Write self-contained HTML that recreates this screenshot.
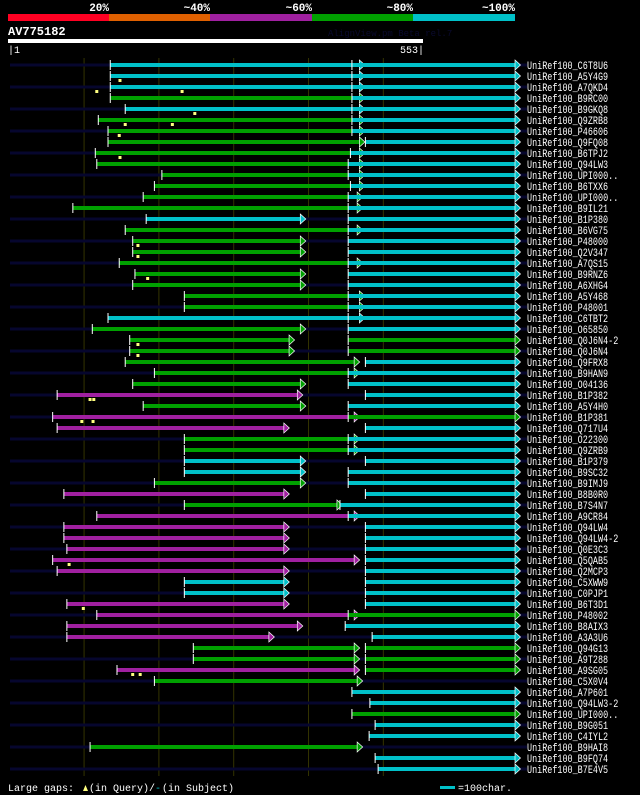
<!DOCTYPE html>
<html><head><meta charset="utf-8"><style>
html,body{margin:0;padding:0;background:#000;width:640px;height:795px;overflow:hidden}
svg{display:block}
text{font-family:"Liberation Mono","DejaVu Sans Mono",monospace;fill:#fff}
</style></head><body>
<svg id="chart" width="640" height="795" viewBox="0 0 640 795">
<g>
<rect x="8" y="14" width="101" height="7" fill="#ff0022"/>
<rect x="109" y="14" width="101" height="7" fill="#e06000"/>
<rect x="210" y="14" width="102" height="7" fill="#a020a0"/>
<rect x="312" y="14" width="101" height="7" fill="#00a000"/>
<rect x="413" y="14" width="102" height="7" fill="#00c0c8"/>
<text x="109" y="11" text-anchor="end" font-size="11" font-weight="bold">20%</text>
<text x="210" y="11" text-anchor="end" font-size="11" font-weight="bold">~40%</text>
<text x="312" y="11" text-anchor="end" font-size="11" font-weight="bold">~60%</text>
<text x="413" y="11" text-anchor="end" font-size="11" font-weight="bold">~80%</text>
<text x="515" y="11" text-anchor="end" font-size="11" font-weight="bold">~100%</text>
</g>
<text x="8" y="35" font-size="12" font-weight="bold">AV775182</text>
<text x="328" y="36" font-size="9" style="fill:#0a0a2e">AlignView.pm Beta rel.7</text>
<rect x="8" y="39" width="415" height="4" fill="#fff"/>
<text x="8" y="53" font-size="10">|1</text>
<text x="424" y="53" font-size="10" text-anchor="end">553|</text>
<g id="grid"></g>
<g id="rows"></g>
<g>
<text x="8" y="791" font-size="10">Large gaps:</text>
<path d="M83,791 L85.5,785 L88,791 Z" fill="#ffff80"/>
<text x="89" y="791" font-size="10">(in Query)/</text>
<text x="155" y="791" font-size="10" style="fill:#00c0c8">-</text>
<text x="162" y="791" font-size="10">(in Subject)</text>
<rect x="440" y="786" width="15" height="3" fill="#00c0c8"/>
<text x="458" y="791" font-size="10">=100char.</text>
</g>
</svg>
<script>
const gridTicks=[100,200,300,400,500];
const hitNames=["C6T8U6","A5Y4G9","A7QKD4","B9RC00","B9GKQ8","Q9ZRB8","P46606","Q9FQ08","B6TPJ2","Q94LW3","UPI000..","B6TXX6","UPI000..","B9IL21","B1P380","B6VG75","P48000","Q2V347","A7QS15","B9RNZ6","A6XHG4","A5Y468","P48001","C6TBT2","O65850","Q0J6N4-2","Q0J6N4","Q9FRX8","B9HAN9","O04136","B1P382","A5Y4H0","B1P381","Q717U4","O22300","Q9ZRB9","B1P379","B9SC32","B9IMJ9","B8B0R0","B7S4N7","A9CR84","Q94LW4","Q94LW4-2","Q0E3C3","Q5QAB5","Q2MCP3","C5XWW9","C0PJP1","B6T3D1","P48002","B8AIX3","A3A3U6","Q94G13","A9T288","A9SG05","C5X0V4","A7P601","Q94LW3-2","UPI000..","B9G051","C4IYL2","B9HAI8","B9FQ74","B7E4V5"];
// segment: start residue, end residue, identity class (c=~100,g=~80,m=~60)
const hitSegments=[
[[135,472,"c"],[458,680,"c"]],[[135,472,"c"],[458,680,"c"]],[[135,472,"c"],[458,680,"c"]],[[135,472,"g"],[458,680,"c"]],
[[155,472,"c"],[458,680,"c"]],[[119,472,"g"],[458,680,"c"]],[[132,472,"g"],[458,680,"c"]],[[132,472,"g"],[476,680,"c"]],
[[115,472,"g"],[456,680,"c"]],[[117,472,"g"],[453,680,"c"]],[[204,472,"g"],[453,680,"c"]],[[194,472,"g"],[456,680,"c"]],
[[179,469,"g"],[453,680,"c"]],[[85,469,"g"],[453,680,"c"]],[[183,393,"c"],[453,680,"c"]],[[155,469,"g"],[453,680,"c"]],
[[165,393,"g"],[453,680,"c"]],[[165,393,"g"],[453,680,"c"]],[[147,469,"g"],[453,680,"c"]],[[168,393,"g"],[453,680,"c"]],
[[165,393,"g"],[453,680,"c"]],[[234,472,"g"],[453,680,"c"]],[[234,472,"g"],[453,680,"c"]],[[132,472,"c"],[453,680,"c"]],
[[111,393,"g"],[453,680,"c"]],[[161,378,"g"],[453,680,"g"]],[[161,378,"g"],[453,680,"g"]],[[155,465,"g"],[476,680,"c"]],
[[194,465,"g"],[453,680,"c"]],[[165,393,"g"],[453,680,"c"]],[[64,389,"m"],[476,680,"c"]],[[179,393,"g"],[453,680,"c"]],
[[58,465,"m"],[453,680,"g"]],[[64,371,"m"],[476,680,"c"]],[[234,465,"g"],[453,680,"c"]],[[234,465,"g"],[453,680,"c"]],
[[234,393,"c"],[476,680,"c"]],[[234,393,"c"],[453,680,"c"]],[[194,393,"g"],[453,680,"c"]],[[73,371,"m"],[476,680,"c"]],
[[234,442,"g"],[442,680,"c"]],[[117,465,"m"],[453,680,"c"]],[[73,371,"m"],[476,680,"c"]],[[73,371,"m"],[476,680,"c"]],
[[77,371,"m"],[476,680,"c"]],[[58,465,"m"],[476,680,"c"]],[[64,371,"m"],[476,680,"c"]],[[234,371,"c"],[476,680,"c"]],
[[234,371,"c"],[476,680,"c"]],[[77,371,"m"],[476,680,"c"]],[[117,465,"m"],[453,680,"g"]],[[77,389,"m"],[449,680,"c"]],
[[77,351,"m"],[485,680,"c"]],[[246,465,"g"],[476,680,"g"]],[[246,465,"g"],[476,680,"g"]],[[144,465,"m"],[476,680,"g"]],
[[194,469,"g"]],[[458,680,"c"]],[[482,680,"c"]],[[458,680,"g"]],[[489,680,"c"]],[[481,680,"c"]],[[108,469,"g"]],[[489,680,"c"]],[[493,680,"c"]]
];
const hasBackground=[1,0,1,0,1,0,1,0,1,0,1,0,1,0,1,0,1,0,1,0,1,0,1,0,1,0,1,0,1,0,1,0,1,0,1,0,1,0,1,0,1,0,1,0,1,0,1,0,1,0,1,0,1,0,1,0,1,0,1,0,1,0,1,0,1];
const gapMarks=[[],[148],[117,231],[],[248],[155,218],[147],[],[148],[],[],[],[],[],[],[],[172],[172],[],[185],[],[],[],[],[],[172],[172],[],[],[],[108,113],[],[97,112],[],[],[],[],[],[],[],[],[],[],[],[],[80],[],[],[],[99],[],[],[],[],[],[165,175],[],[],[],[],[],[],[],[],[]];
const colors={c:"#00c0c8",g:"#00a000",m:"#a020a0"};
const NS="http://www.w3.org/2000/svg";
const x=r=>10+(r-1)*(413/552);
const y=i=>65+i*11;
function mk(t,a){const e=document.createElementNS(NS,t);for(const k in a)e.setAttribute(k,a[k]);return e;}
const grid=document.getElementById('grid');
gridTicks.forEach(t=>{const l=mk('line',{x1:x(t),x2:x(t),y1:58,y2:776,stroke:'#333300','stroke-width':1});


grid.appendChild(l);});
const rows=document.getElementById('rows');
hitNames.forEach((n,i)=>{
 const g=mk('g',{});
 
 
 const yy=y(i);
 if(hasBackground[i]){const b=mk('rect',{x:10,y:yy-1.5,width:517,height:3,fill:'#06062e'});
  
  
  g.appendChild(b);}
 hitSegments[i].forEach(s=>{
  const x1=x(s[0]),x2=x(s[1])-3,c=colors[s[2]];
  const r=mk('rect',{x:x1,y:yy-2,width:x2-x1,height:4,fill:c});
  
  
  g.appendChild(r);
  const tk=mk('rect',{x:x1-0.5,y:yy-5,width:1,height:10,fill:'#fff'});
  
  
  g.appendChild(tk);
  const ar=mk('path',{d:`M${x2},${yy-5} L${x2+5.5},${yy} L${x2},${yy+5} Z`,fill:c,stroke:'#fff','stroke-width':0.7});
  
  
  g.appendChild(ar);
 });
 gapMarks[i].forEach(m=>{const gx=x(m);
  const p=mk('rect',{x:gx-1.5,y:yy+3,width:3,height:3,fill:'#ffff80'});
  
  
  g.appendChild(p);});
 const t=mk('text',{x:527,y:yy+4,'font-size':11});
 
 
 const label='UniRef100_'+n;
 t.textContent=label;
 t.setAttribute('textLength',(label.length*5.07).toFixed(1));
 t.setAttribute('lengthAdjust','spacingAndGlyphs');
 g.appendChild(t);
 rows.appendChild(g);
});
</script>
</body></html>
